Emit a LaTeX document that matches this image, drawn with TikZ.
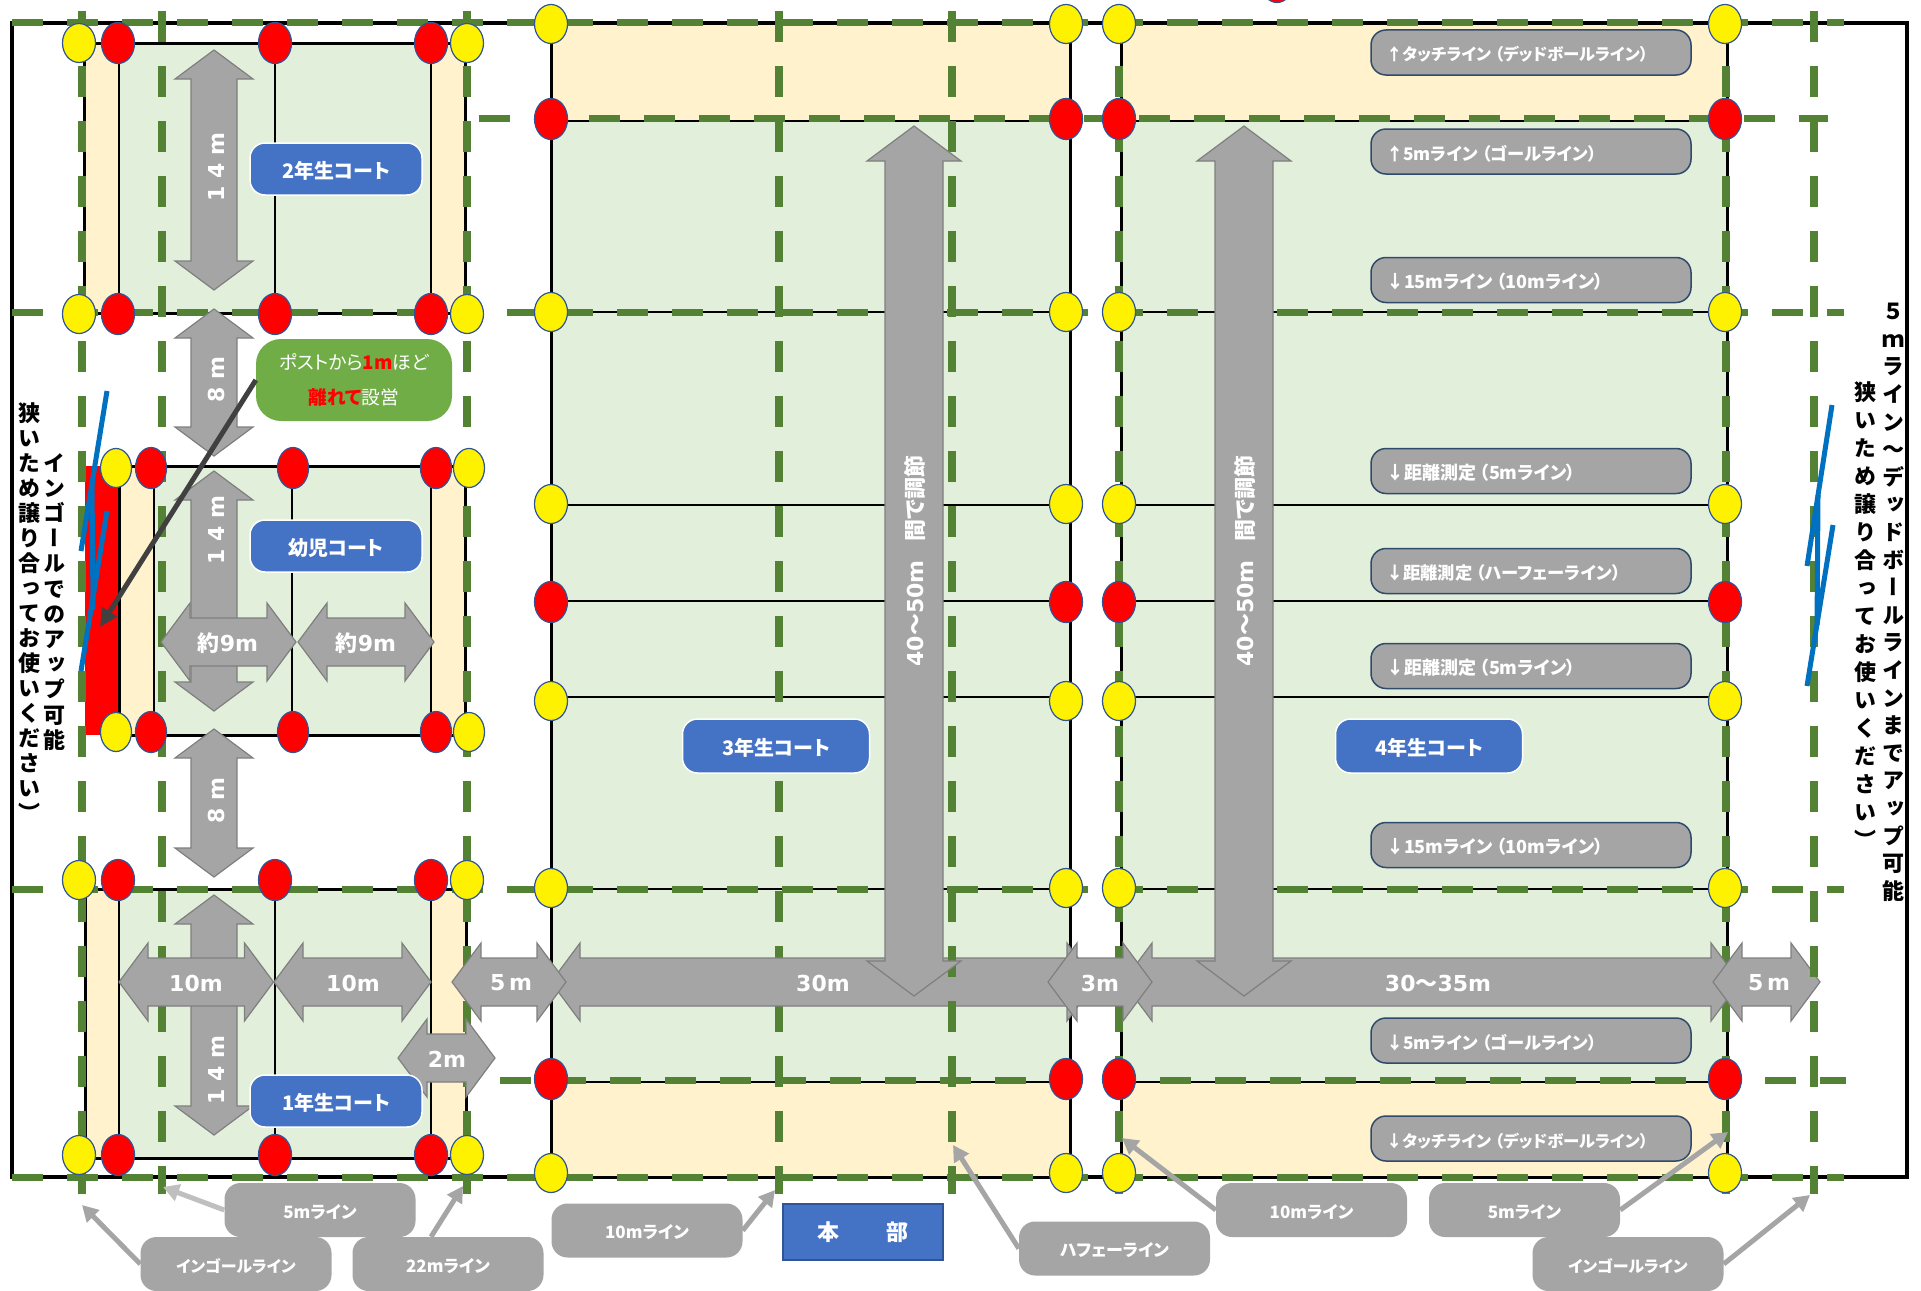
\documentclass[tikz,border=0pt]{standalone}
\usepackage{fontspec}
\usetikzlibrary{shapes.geometric,arrows.meta}
\setmainfont[RawFeature=+palt]{Noto Sans CJK JP}
\newfontfamily\tatefont[RawFeature=+vert]{Noto Sans CJK JP}
\newfontfamily\dimfont{DejaVu Sans}
\definecolor{turf}{HTML}{E2EFDA}
\definecolor{cream}{HTML}{FFF2CC}
\definecolor{linegreen}{HTML}{548235}
\definecolor{dimgrey}{HTML}{A5A5A5}
\definecolor{dimedge}{HTML}{7F7F7F}
\definecolor{boxblue}{HTML}{4472C4}
\definecolor{leaf}{HTML}{70AD47}
\definecolor{bolt}{HTML}{0070C0}
\definecolor{postedge}{HTML}{2F5597}
\definecolor{noteedge}{HTML}{2F4A6B}

% double arrows: name, x1, x2, y, label x, label
\newcommand{\dimh}[6]{
    \draw[dimshape] (#2,#4) -- (#2+29,#4-39) -- (#2+29,#4-24) -- (#3-29,#4-24) -- (#3-29,#4-39) -- (#3,#4)
        -- (#3-29,#4+39) -- (#3-29,#4+24) -- (#2+29,#4+24) -- (#2+29,#4+39) -- cycle;
    \node[dimtext] (#1) at (#5,#4+1) {#6};
}
% name, x, y1, y2, label y, label
\newcommand{\dimv}[6]{
    \draw[dimshape] (#2,#3) -- (#2+39,#3+29) -- (#2+23,#3+29) -- (#2+23,#4-29) -- (#2+39,#4-29) -- (#2,#4)
        -- (#2-39,#4-29) -- (#2-23,#4-29) -- (#2-23,#3+29) -- (#2-39,#3+29) -- cycle;
    \node[dimtext,rotate=90] (#1) at (#2+2,#5) {#6};
}
% name, x
\newcommand{\bigv}[2]{
    \draw[dimshape] (#2,126) -- (#2+47,161) -- (#2+29,161) -- (#2+29,961) -- (#2+47,961) -- (#2,996)
        -- (#2-47,961) -- (#2-29,961) -- (#2-29,161) -- (#2-47,161) -- cycle;
    \node[dimtext,rotate=90] (#1) at (#2+1,561) {40{\normalfont\bfseries ～}50m\hspace{19pt}{\normalfont\bfseries 間で調節}};
}
\newcommand{\opar}{\hspace{4pt}（}

\begin{document}
\begin{tikzpicture}[x=1pt, y=-1pt,
    frameline/.style = {draw=black, line width=4pt},
    courtline/.style = {draw=black, line width=3pt},
    gridh/.style = {draw=linegreen, line width=7pt, dash pattern=on 31pt off 24pt},
    gridv/.style = {draw=linegreen, line width=8pt, dash pattern=on 31pt off 24pt},
    post/.style = {shape=ellipse, draw=postedge, line width=1.2pt, inner sep=0pt, minimum width=33pt, minimum height=39pt},
    yellowpost/.style = {post, fill=yellow},
    redpost/.style = {post, fill=red, minimum height=41pt},
    dimshape/.style = {fill=dimgrey, draw=dimedge, line width=1.2pt},
    dimtext/.style = {text=white, font=\dimfont\bfseries\fontsize{22}{24}\selectfont, inner sep=0pt},
    courtname/.style = {fill=boxblue, draw=white, line width=1.5pt, rounded corners=15pt, text=white,
        font=\bfseries\fontsize{20}{24}\selectfont, minimum width=172pt, minimum height=52pt, inner sep=0pt,
        text height=20.6pt, text depth=2.4pt},
    linenote/.style = {fill=dimgrey, draw=noteedge, line width=1.5pt, rounded corners=15pt, text=white,
        font=\bfseries\fontsize{18}{22}\selectfont, minimum width=320pt, minimum height=45pt, inner sep=0pt,
        text width=290pt, align=left, text height=19pt, text depth=2pt},
    smallnote/.style = {linenote, font=\bfseries\fontsize{16.4}{22}\selectfont},
    midnote/.style = {linenote, font=\bfseries\fontsize{17.3}{22}\selectfont},
    linetag/.style = {fill=dimgrey, rounded corners=16pt, text=white,
        font=\bfseries\fontsize{17}{20}\selectfont, minimum width=191pt, minimum height=54pt, inner sep=0pt,
        text height=18pt, text depth=2pt},
    longtag/.style = {linetag, font=\bfseries\fontsize{16}{20}\selectfont},
    pointer/.style = {draw=dimgrey, line width=5pt, -{Triangle[length=16pt,width=17pt]}},
    tate/.style = {anchor=north, align=center, inner sep=0pt, text=black},
    ]
    \useasboundingbox (0,0) rectangle (1921,1290);

    % frame
    \draw[frameline] (12,23) rectangle (1907,1177);

    % 2nd year court
    \fill[turf] (84,44) rectangle (465,313);
    \fill[cream] (84,44) rectangle (119,313);
    \fill[cream] (431,44) rectangle (465,313);
    \draw[courtline] (84,44) rectangle (465,313);
    \draw[line width=2.5pt] (119,44) -- (119,313);
    \draw[line width=2.5pt] (275,44) -- (275,313);
    \draw[line width=2.5pt] (431,44) -- (431,313);

    % infants court
    \fill[red] (85,466) rectangle (118,735);
    \fill[turf] (119,466) rectangle (465,735);
    \fill[cream] (119,466) rectangle (154,735);
    \fill[cream] (431,466) rectangle (465,735);
    \draw[courtline] (119,466) rectangle (465,735);
    \draw[line width=2.5pt] (154,466) -- (154,735);
    \draw[line width=2.5pt] (292,466) -- (292,735);
    \draw[line width=2.5pt] (431,466) -- (431,735);

    % 1st year court
    \fill[turf] (85,889) rectangle (466,1158);
    \fill[cream] (85,889) rectangle (119,1158);
    \fill[cream] (431,889) rectangle (466,1158);
    \draw[courtline] (85,889) rectangle (466,1158);
    \draw[line width=2.5pt] (119,889) -- (119,1158);
    \draw[line width=2.5pt] (275,889) -- (275,1158);
    \draw[line width=2.5pt] (431,889) -- (431,1158);

    % 3rd and 4th year courts
    \foreach \xa/\xb in {551/1070, 1121/1727} {
        \fill[turf] (\xa,121) rectangle (\xb,1082);
        \fill[cream] (\xa,24) rectangle (\xb,121);
        \fill[cream] (\xa,1082) rectangle (\xb,1177);
        \draw[courtline] (\xa,24) rectangle (\xb,1177);
        \foreach \y in {121,312,505,601,697,889,1082}
            \draw[line width=2.5pt] (\xa,\y) -- (\xb,\y);
    }

    % dashed lines
    \draw[gridh] (12,22.6) -- (1844,22.6);
    \draw[gridh] (479,118) -- (1828,118);
    \draw[gridh] (12,312) -- (1844,312);
    \draw[gridh] (12,889) -- (1844,889);
    \draw[gridh] (500,1080) -- (1846,1080);
    \draw[gridh] (12,1177) -- (1844,1177);
    \foreach \x in {82,162,467,779,1119,1726}
        \draw[gridv] (\x,11) -- (\x,1194);

    % posts of the small courts
    \node[redpost] (stray) at (1277,-18) {};
    \foreach \y in {43,314,880,1155} {
        \node[yellowpost] (a\y) at (79,\y) {};
        \node[redpost] (b\y) at (118,\y) {};
        \node[redpost] (c\y) at (275,\y) {};
        \node[redpost] (d\y) at (431,\y) {};
        \node[yellowpost] (e\y) at (467,\y) {};
    }
    \foreach \y in {468,732} {
        \node[yellowpost, minimum width=31pt] (a\y) at (116,\y) {};
        \node[redpost, minimum width=31pt] (b\y) at (151,\y) {};
        \node[redpost, minimum width=31pt] (c\y) at (293,\y) {};
        \node[redpost, minimum width=31pt] (d\y) at (436,\y) {};
        \node[yellowpost, minimum width=31pt] (e\y) at (469,\y) {};
    }

    % posts of the large courts
    \foreach \x in {551,1066,1119,1725} {
        \foreach \y in {24,312,504,701,888,1173}
            \node[yellowpost] (y\x-\y) at (\x,\y) {};
        \foreach \y in {119,602,1079}
            \node[redpost] (r\x-\y) at (\x,\y) {};
    }

    % lengths
    \dimv{lenA}{214}{50}{290}{167}{1 4 m}
    \dimv{gapA}{214}{309}{456}{380}{8 m}
    \dimv{lenB}{214}{471}{711}{530}{1 4 m}
    \dimv{gapB}{214}{729}{877}{801}{8 m}
    \dimv{lenC}{214}{895}{1135}{1070}{1 4 m}

    % widths
    \dimh{wideA}{161}{296}{642}{228}{{\normalfont\bfseries 約}9m}
    \dimh{wideB}{298}{434}{642}{366}{{\normalfont\bfseries 約}9m}
    \dimh{tenA}{119}{273.5}{982}{196}{10m}
    \dimh{tenB}{274}{431}{982}{353}{10m}
    \dimh{twoA}{398}{495}{1058}{447}{2m}
    \dimh{thirty}{551}{1096}{982}{823}{30m}
    \dimh{fiveA}{452}{566}{982}{511}{5\,m}
    \dimh{wideC}{1123}{1740}{982}{1438}{30{\normalfont\bfseries ～}35m}
    \dimh{threeA}{1048}{1152}{982}{1100}{3m}
    \dimh{fiveB}{1713}{1820}{982}{1769}{5\,m}

    \draw[gridv] (952,11) -- (952,1194);
    \draw[gridv] (1814,11) -- (1814,1194);

    \bigv{spanA}{914}
    \bigv{spanB}{1244}

    % court names
    \node[courtname] (second) at (336,169) {2年生コート};
    \node[courtname] (infant) at (336,546) {幼児コート};
    \node[courtname] (first) at (336,1101) {1年生コート};
    \node[courtname, minimum width=187pt, minimum height=54pt] (third) at (776,746) {3年生コート};
    \node[courtname, minimum width=187pt, minimum height=54pt] (fourth) at (1429,746) {4年生コート};

    % notes on the lines of the 4th year court
    \node[smallnote] (noteA) at (1531,52.5) {↑タッチライン\opar デッドボールライン）};
    \node[midnote] (noteB) at (1531,151.5) {↑5mライン\opar ゴールライン）};
    \node[linenote] (noteC) at (1531,280) {↓15mライン\opar 10mライン）};
    \node[linenote] (noteD) at (1531,471) {↓距離測定\opar 5mライン）};
    \node[midnote] (noteE) at (1531,571) {↓距離測定\opar ハーフェーライン）};
    \node[linenote] (noteF) at (1531,666) {↓距離測定\opar 5mライン）};
    \node[linenote] (noteG) at (1531,845) {↓15mライン\opar 10mライン）};
    \node[midnote] (noteH) at (1531,1040.5) {↓5mライン\opar ゴールライン）};
    \node[smallnote] (noteI) at (1531,1138.5) {↓タッチライン\opar デッドボールライン）};

    % warm-up area
    \draw[bolt, line width=5pt] (107,391) -- (81,551);
    \draw[bolt, line width=5pt] (92,481) -- (93,610);
    \draw[bolt, line width=5pt] (107,511) -- (81,671);
    \draw[bolt, line width=5pt] (1832,405) -- (1807,566);
    \draw[bolt, line width=5pt] (1818,495) -- (1817,625);
    \draw[bolt, line width=5pt] (1833,525) -- (1807,686);

    \node[fill=leaf, rounded corners=25pt, minimum width=196pt, minimum height=82pt, inner sep=0pt, text=white,
        align=center, font=\fontsize{18.7}{35}\selectfont] (postnote) at (354,380)
        {ポストから{\bfseries\color{red}1m}ほど\\{\bfseries\color{red}離れて}設営};
    \coordinate (redarea) at (100,627);
    \draw[draw=black!75, line width=5pt, -{Triangle[length=18pt,width=17pt]}] (postnote.west) -- (redarea);

    % tags below the field
    \node[linetag] (fiveL) at (320,1210) {5mライン};
    \node[longtag] (ingoalL) at (236,1264) {インゴールライン};
    \node[linetag] (twentytwo) at (448,1264) {22mライン};
    \node[linetag] (tenL) at (647,1230.5) {10mライン};
    \node[linetag] (halfway) at (1114.5,1248.5) {ハフェーライン};
    \node[linetag] (tenR) at (1311.5,1210) {10mライン};
    \node[linetag] (fiveR) at (1524.5,1210) {5mライン};
    \node[longtag] (ingoalR) at (1628,1264) {インゴールライン};
    \node[fill=boxblue, draw=postedge, line width=1.5pt, minimum width=160pt, minimum height=56pt, inner sep=0pt,
        text=white, font=\bfseries\fontsize{22}{24}\selectfont] (office) at (863,1232) {本\hspace{48pt}部};

    \coordinate (tipA) at (82,1205);
    \coordinate (tipB) at (163,1187);
    \coordinate (tipC) at (463,1186);
    \coordinate (tipD) at (775,1190);
    \coordinate (tipE) at (953,1145);
    \coordinate (tipF) at (1122,1138);
    \coordinate (tipG) at (1728,1132);
    \coordinate (tipH) at (1810,1195);
    \draw[pointer] (ingoalL.west) -- (tipA);
    \draw[pointer, draw=black!25] (fiveL.west) -- (tipB);
    \draw[pointer] ([xshift=-17pt]twentytwo.north) -- (tipC);
    \draw[pointer] (tenL.east) -- (tipD);
    \draw[pointer] (halfway.west) -- (tipE);
    \draw[pointer] (tenR.west) -- (tipF);
    \draw[pointer] (fiveR.east) -- (tipG);
    \draw[pointer] (ingoalR.east) -- (tipH);

    % upright texts
    \node[tate, font=\tatefont\bfseries\fontsize{22}{25}\selectfont] (talkL) at (29,402)
        {狭\\い\\た\\め\\譲\\り\\合\\っ\\て\\お\\使\\い\\く\\だ\\さ\\い\\）};
    \node[tate, font=\tatefont\bfseries\fontsize{22}{25.2}\selectfont] (upL) at (54,453)
        {イ\\ン\\ゴ\\ー\\ル\\で\\の\\ア\\ッ\\プ\\可\\能};
    \node[tate, font=\tatefont\bfseries\fontsize{22}{27.6}\selectfont] (upR) at (1893,303)
        {５\\ｍ\\ラ\\イ\\ン\\{\normalfont\bfseries ～}\\デ\\ッ\\ド\\ボ\\ー\\ル\\ラ\\イ\\ン\\ま\\で\\ア\\ッ\\プ\\可\\能};
    \node[tate, font=\tatefont\bfseries\fontsize{22}{28}\selectfont] (talkR) at (1865,381)
        {狭\\い\\た\\め\\譲\\り\\合\\っ\\て\\お\\使\\い\\く\\だ\\さ\\い\\）};
\end{tikzpicture}
\end{document}
